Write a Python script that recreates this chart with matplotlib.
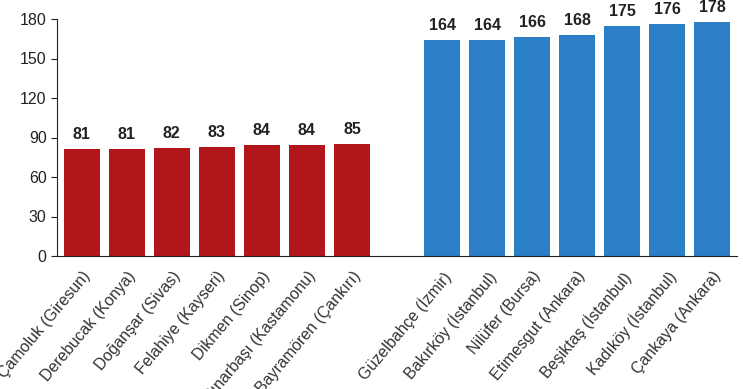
import numpy as np
import matplotlib.pyplot as plt

plt.rcParams['font.family'] = ['Liberation Sans', 'DejaVu Sans']

# lowest and highest districts
low_names = ['Çamoluk (Giresun)', 'Derebucak (Konya)', 'Doğanşar (Sivas)',
             'Felahiye (Kayseri)', 'Dikmen (Sinop)', 'Pınarbaşı (Kastamonu)',
             'Bayramören (Çankırı)']
low_values = [81, 81, 82, 83, 84, 84, 85]

high_names = ['Güzelbahçe (İzmir)', 'Bakırköy (İstanbul)', 'Nilüfer (Bursa)',
              'Etimesgut (Ankara)', 'Beşiktaş (İstanbul)', 'Kadıköy (İstanbul)',
              'Çankaya (Ankara)']
high_values = [164, 164, 166, 168, 175, 176, 178]

y_ticks = [0, 30, 60, 90, 120, 150, 180]

RED = '#B0161A'
BLUE = '#2A7FC7'

fig = plt.figure(figsize=(7.43, 3.89), dpi=100)
ax = fig.add_axes([57 / 743, 1 - 256 / 389, 680 / 743, 237 / 389])

x_low = np.arange(len(low_values))
x_high = np.arange(len(high_values)) + len(low_values) + 1

bars_low = ax.bar(x_low, low_values, width=0.8, color=RED)
bars_high = ax.bar(x_high, high_values, width=0.8, color=BLUE)

for bars in (bars_low, bars_high):
    ax.bar_label(bars, padding=5, fontsize=11.5, fontweight='bold', color='#222222')

ax.set_xlim(-0.55, x_high[-1] + 0.55)
ax.set_ylim(0, 180)
ax.set_yticks(y_ticks)
ax.tick_params(axis='y', labelsize=11.5, length=4, colors='#222222')

ax.set_xticks(list(x_low) + list(x_high))
ax.set_xticklabels(low_names + high_names, rotation=50, ha='right',
                   rotation_mode='anchor', fontsize=11.5, color='#333333')
ax.tick_params(axis='x', length=0, pad=9)

ax.spines['top'].set_visible(False)
ax.spines['right'].set_visible(False)
ax.spines['left'].set_color('#222222')
ax.spines['bottom'].set_color('#222222')

fig.savefig('out.png', dpi=100)
